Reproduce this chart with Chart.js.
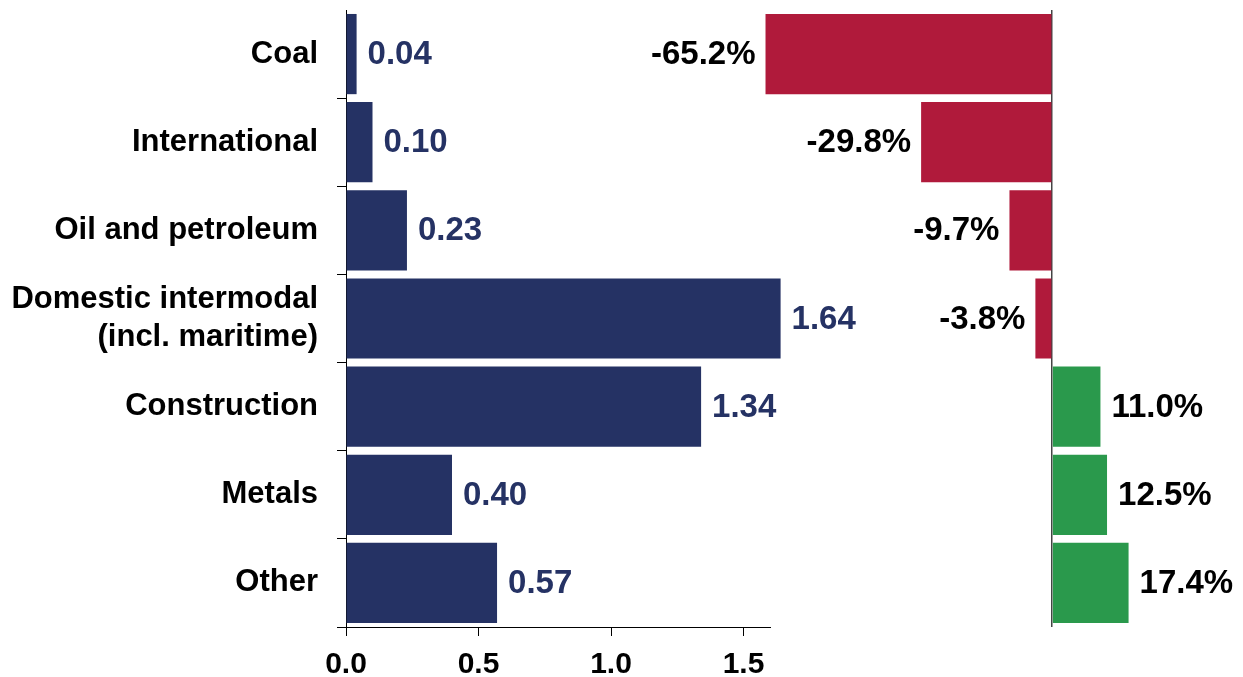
<!DOCTYPE html>
<html>
<head>
<meta charset="utf-8">
<script src="https://cdn.jsdelivr.net/npm/chart.js@4.4.0/dist/chart.umd.min.js"></script>
<style>
  body { margin: 0; background: #fff; }
  #wrap { position: relative; width: 1243px; height: 677px; }
  #wrap canvas { position: absolute; left: 0; top: 0; }
</style>
</head>
<body>
<div id="wrap">
  <canvas id="volumeChart" width="1243" height="677"></canvas>
  <canvas id="changeChart" width="1243" height="677"></canvas>
</div>
<script>
// ====== DATA ======
const categories = ['Coal', 'International', 'Oil and petroleum', ['Domestic intermodal', '(incl. maritime)'], 'Construction', 'Metals', 'Other'];
const volumes = [0.04, 0.10, 0.23, 1.64, 1.34, 0.40, 0.57];
const changes = [-65.2, -29.8, -9.7, -3.8, 11.0, 12.5, 17.4];
const volumeTicks = [0, 0.5, 1.0, 1.5];

const FONT = '"Liberation Sans", Arial, sans-serif';
const NAVY = '#253264';
const RED = '#B01A3B';
const GREEN = '#2A994C';

// value labels at the end of each bar
function barLabels(format, color) {
    return {
        id: 'barLabels',
        afterDatasetsDraw(chart) {
            const ctx = chart.ctx;
            const meta = chart.getDatasetMeta(0);
            const data = chart.data.datasets[0].data;
            ctx.save();
            ctx.font = 'bold 33px ' + FONT;
            ctx.textBaseline = 'middle';
            ctx.fillStyle = color;
            meta.data.forEach((bar, i) => {
                const v = data[i];
                if (v < 0) {
                    ctx.textAlign = 'right';
                    ctx.fillText(format(v), bar.x - 10, bar.y + 1);
                } else {
                    ctx.textAlign = 'left';
                    ctx.fillText(format(v), bar.x + 11, bar.y + 1);
                }
            });
            ctx.restore();
        }
    };
}

// ====== LEFT PANEL: VOLUMES ======
new Chart(document.getElementById('volumeChart'), {
    type: 'bar',
    data: {
        labels: categories,
        datasets: [{
            data: volumes,
            backgroundColor: NAVY,
            barPercentage: 0.91,
            categoryPercentage: 1,
            clip: false
        }]
    },
    options: {
        indexAxis: 'y',
        responsive: false,
        devicePixelRatio: 1,
        animation: false,
        layout: { padding: { left: 0, right: 473, top: 10, bottom: 0 } },
        plugins: { legend: { display: false }, tooltip: { enabled: false } },
        scales: {
            x: {
                min: 0,
                max: 1.6,
                afterBuildTicks: scale => { scale.ticks = volumeTicks.map(v => ({ value: v })); },
                afterFit: scale => {
                    scale.height = 50;
                    scale.paddingLeft = 0;
                    scale.paddingRight = 0;
                },
                grid: { drawOnChartArea: false, tickLength: 9, color: '#000' },
                border: { color: '#000', width: 1 },
                ticks: {
                    color: '#000',
                    font: { family: FONT, size: 30, weight: 'bold' },
                    padding: 11,
                    callback: v => Number(v).toFixed(1)
                }
            },
            y: {
                afterFit: scale => {
                    scale.width = 346;
                    scale.paddingTop = 0;
                    scale.paddingBottom = 0;
                },
                grid: {
                    drawOnChartArea: false,
                    tickLength: 9,
                    tickColor: c => c.index === 0 ? 'rgba(0,0,0,0)' : '#000'
                },
                border: { color: '#000', width: 1 },
                ticks: {
                    color: '#000',
                    font: { family: FONT, size: 31, weight: 'bold' },
                    padding: 19
                }
            }
        }
    },
    plugins: [barLabels(v => v.toFixed(2), NAVY)]
});

// ====== RIGHT PANEL: % CHANGE ======
new Chart(document.getElementById('changeChart'), {
    type: 'bar',
    data: {
        labels: categories,
        datasets: [{
            data: changes,
            backgroundColor: changes.map(v => v < 0 ? RED : GREEN),
            barPercentage: 0.91,
            categoryPercentage: 1
        }]
    },
    options: {
        indexAxis: 'y',
        responsive: false,
        devicePixelRatio: 1,
        animation: false,
        layout: { padding: { left: 762, right: 103, top: 10, bottom: 0 } },
        plugins: { legend: { display: false }, tooltip: { enabled: false } },
        scales: {
            x: {
                min: -66,
                max: 20,
                ticks: { display: false, stepSize: 2 },
                afterFit: scale => { scale.height = 50; },
                grid: {
                    drawTicks: false,
                    lineWidth: 1.5,
                    color: c => c.tick && c.tick.value === 0 ? '#444' : 'rgba(0,0,0,0)'
                },
                border: { display: false }
            },
            y: { display: false }
        }
    },
    plugins: [barLabels(v => v.toFixed(1) + '%', '#000')]
});
</script>
</body>
</html>
